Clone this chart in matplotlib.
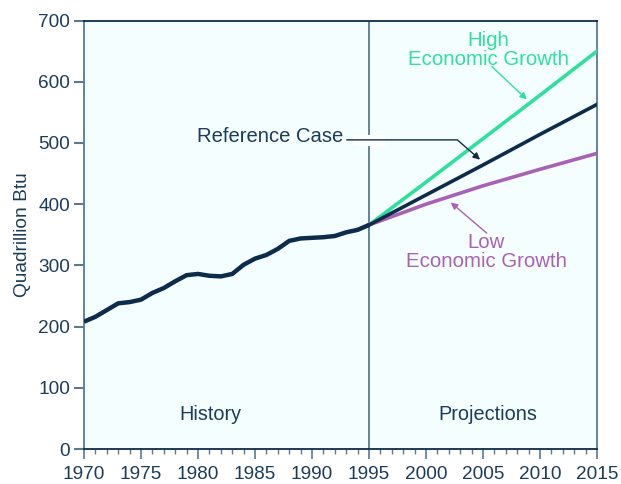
import numpy as np
import matplotlib
matplotlib.use('Agg')
import matplotlib.pyplot as plt
from matplotlib.ticker import MultipleLocator

### Data

hist_years = np.arange(1970, 1996)
hist_values = [208, 216, 227, 238, 240, 244, 255, 263, 274, 284,
               286, 283, 282, 286, 301, 311, 317, 327, 340, 344,
               345, 346, 348, 354, 358, 366]

proj_years = [1995, 2000, 2005, 2010, 2015]
high_values = [366, 436, 507, 578, 650]
ref_values = [366, 415, 464, 514, 563]
low_values = [366, 400, 430, 457, 483]

x_ticks = np.arange(1970, 2016, 5)
y_ticks = np.arange(0, 701, 100)

### Styling

navy = '#0d2c4b'
green = '#2ee09c'
purple = '#a862b5'
text_col = '#1b3c5a'
spine_col = '#5b7991'
bg = '#f5feff'

plt.rcParams['font.family'] = ['Liberation Sans', 'DejaVu Sans']
plt.rcParams['font.size'] = 14

fig = plt.figure(figsize = (6.21, 4.84), dpi = 100)
ax = fig.add_axes([0.1353, 0.0723, 0.9614 - 0.1353, 0.9576 - 0.0723])
ax.set_facecolor(bg)

# split between history and projections
ax.axvline(1995, color = spine_col, lw = 1.3, zorder = 1)

ax.plot(hist_years, hist_values, color = navy, lw = 3.2, solid_capstyle = 'butt', zorder = 4)
ax.plot(proj_years, high_values, color = green, lw = 2.6, zorder = 3)
ax.plot(proj_years, low_values, color = purple, lw = 2.6, zorder = 3)
ax.plot(proj_years, ref_values, color = navy, lw = 2.6, zorder = 4)

ax.set_xlim(1970, 2015)
ax.set_ylim(0, 700)
ax.set_xticks(x_ticks)
ax.set_yticks(y_ticks)
ax.xaxis.set_minor_locator(MultipleLocator(1))
ax.tick_params(axis = 'both', colors = text_col, labelsize = 13.7)
ax.tick_params(axis = 'x', which = 'major', length = 7, width = 1.2, color = spine_col, pad = 5)
ax.tick_params(axis = 'x', which = 'minor', length = 3.5, width = 1.0, color = spine_col)
ax.tick_params(axis = 'y', which = 'major', length = 7, width = 1.5, color = spine_col, pad = 3)
ax.set_ylabel('Quadrillion Btu', color = text_col, fontsize = 13.8, labelpad = 5)

for side in ['left', 'right']:
   ax.spines[side].set_color(spine_col)
   ax.spines[side].set_linewidth(1.3)
for side in ['top', 'bottom']:
   ax.spines[side].set_color(navy)
   ax.spines[side].set_linewidth(1.3)

### Labels

ax.text(1981.1, 56, 'History', ha = 'center', va = 'center', color = text_col, fontsize = 14.3)
ax.text(2005.4, 56, 'Projections', ha = 'center', va = 'center', color = text_col, fontsize = 14.3)

ax.text(2005.5, 652, 'High\nEconomic Growth', ha = 'center', va = 'center', color = green,
        fontsize = 14.7, linespacing = 0.95)
ax.annotate('', xy = (2008.85, 571), xytext = (2005.76, 625),
            arrowprops = dict(arrowstyle = '-|>', color = green, lw = 1.0,
                              shrinkA = 0, shrinkB = 0, mutation_scale = 10))

ax.text(2005.3, 322, 'Low\nEconomic Growth', ha = 'center', va = 'center', color = purple,
        fontsize = 14.7, linespacing = 0.95)
ax.annotate('', xy = (2002.17, 402.8), xytext = (2005.32, 352.8),
            arrowprops = dict(arrowstyle = '-|>', color = purple, lw = 1.0,
                              shrinkA = 0, shrinkB = 0, mutation_scale = 10))

ax.text(1986.3, 510, 'Reference Case', ha = 'center', va = 'center', color = text_col, fontsize = 14.6)
# white gap in the divider where the leader line crosses it
ax.plot([1993.6, 1996.4], [505, 505], color = 'white', lw = 8, solid_capstyle = 'butt', zorder = 2)
ax.annotate('', xy = (2004.74, 472.7), xytext = (1993.04, 505),
            arrowprops = dict(arrowstyle = '-|>', color = navy, lw = 1.0,
                              connectionstyle = 'angle,angleA=0,angleB=139,rad=0',
                              shrinkA = 0, shrinkB = 0, mutation_scale = 10),
            zorder = 5)

fig.savefig('out.png', dpi = 100)
